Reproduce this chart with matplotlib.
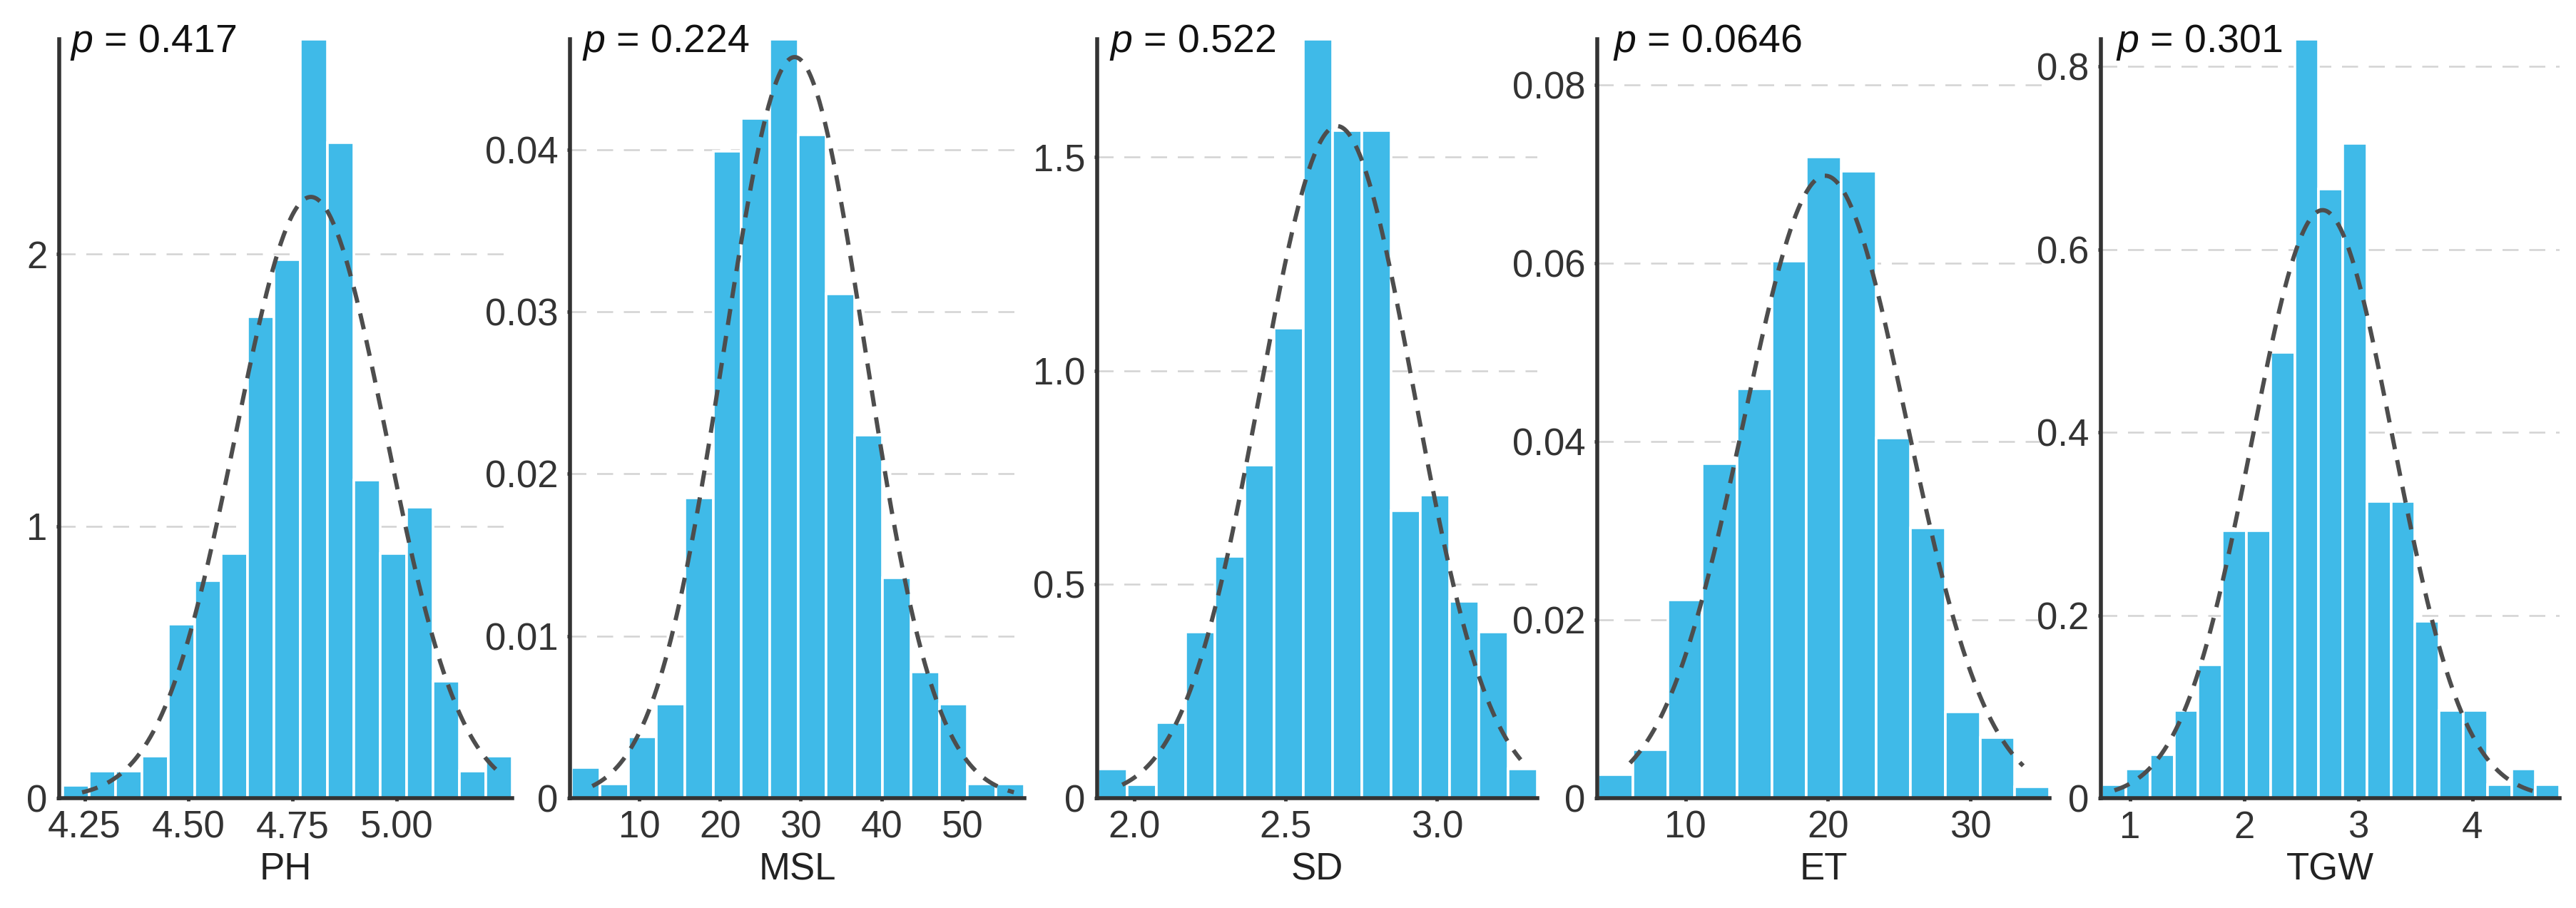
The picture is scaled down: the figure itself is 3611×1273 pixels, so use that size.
#!/usr/bin/env python3
"""Histograms of five traits with fitted normal density and Shapiro p-values."""
import numpy as np
import matplotlib
matplotlib.use("Agg")
import matplotlib.pyplot as plt

plt.rcParams["font.family"] = ["Liberation Sans", "DejaVu Sans"]
plt.rcParams["mathtext.fontset"] = "custom"
plt.rcParams["mathtext.it"] = "Liberation Sans:italic"
plt.rcParams["mathtext.rm"] = "Liberation Sans"

# ── Data ────────────────────────────────────────────────────────────────────
traits = ["PH", "MSL", "SD", "ET", "TGW"]
p_values = ["0.417", "0.224", "0.522", "0.0646", "0.301"]

# histogram densities, left edge of first bin, bin width
ph_heights = [0.047, 0.10, 0.10, 0.155, 0.64, 0.80, 0.90, 1.77, 1.98, 2.79,
              2.41, 1.17, 0.90, 1.07, 0.43, 0.10, 0.155]
msl_heights = [0.0019, 0.0009, 0.0038, 0.0058, 0.0185, 0.0399, 0.0419, 0.0468,
               0.0409, 0.0311, 0.0224, 0.0136, 0.0078, 0.0058, 0.0009, 0.0009]
sd_heights = [0.068, 0.031, 0.176, 0.389, 0.566, 0.779, 1.100, 1.775, 1.561,
              1.561, 0.673, 0.709, 0.461, 0.389, 0.068]
et_heights = [0.0026, 0.0054, 0.0222, 0.0375, 0.0459, 0.0602, 0.0719, 0.0703,
              0.0404, 0.0303, 0.0097, 0.0068, 0.0013]
tgw_heights = [0.0146, 0.0317, 0.0475, 0.0963, 0.1457, 0.2926, 0.2926, 0.4877,
               0.8298, 0.6663, 0.7157, 0.3243, 0.3243, 0.1932, 0.0963, 0.0963,
               0.0146, 0.0317, 0.0146]
heights = [ph_heights, msl_heights, sd_heights, et_heights, tgw_heights]

bin_start = [4.197, 1.66, 1.880, 3.87, 0.753]
bin_width = [0.0636, 3.50, 0.0968, 2.437, 0.2112]

# fitted normal curve: mean, sd, x-range of the drawn curve
fit_mean = [4.794, 29.25, 2.67, 19.8, 2.688]
fit_sd = [0.1805, 8.73, 0.2538, 5.716, 0.6205]
curve_from = [4.244, 4.2, 1.96, 6.1, 0.864]
curve_to = [5.25, 56.4, 3.277, 33.7, 4.59]

xlims = [(4.189, 5.278), (1.44, 57.7), (1.877, 3.332), (3.80, 35.55), (0.745, 4.765)]
ylims = [2.79, 0.0468, 1.775, 0.0851, 0.8298]

xticks = [[4.25, 4.50, 4.75, 5.00], [10, 20, 30, 40, 50], [2.0, 2.5, 3.0],
          [10, 20, 30], [1, 2, 3, 4]]
xticklabels = [["4.25", "4.50", "4.75", "5.00"], ["10", "20", "30", "40", "50"],
               ["2.0", "2.5", "3.0"], ["10", "20", "30"], ["1", "2", "3", "4"]]
yticks = [[0, 1, 2], [0, 0.01, 0.02, 0.03, 0.04], [0, 0.5, 1.0, 1.5],
          [0, 0.02, 0.04, 0.06, 0.08], [0, 0.2, 0.4, 0.6, 0.8]]
yticklabels = [["0", "1", "2"], ["0", "0.01", "0.02", "0.03", "0.04"],
               ["0", "0.5", "1.0", "1.5"], ["0", "0.02", "0.04", "0.06", "0.08"],
               ["0", "0.2", "0.4", "0.6", "0.8"]]

# ── Layout (pixel positions of each panel in a 3611 x 1273 canvas) ─────────
W, H = 3611, 1273
panel_px = [(83, 718), (799, 1436), (1538, 2155), (2239, 2873), (2945, 3588)]
p_offset_px = [15, 17, 17, 22, 21]
top_px, bottom_px = 55, 1119

BAR_COLOR = "#3FBAE8"
AXIS_COLOR = "#333333"
CURVE_COLOR = "#4D4D4D"

fig = plt.figure(figsize=(W / 100, H / 100), dpi=100)

for i, trait in enumerate(traits):
    x0, x1 = panel_px[i]
    ax = fig.add_axes([x0 / W, 1 - bottom_px / H, (x1 - x0) / W,
                       (bottom_px - top_px) / H])

    h = np.array(heights[i])
    lefts = bin_start[i] + bin_width[i] * np.arange(len(h))
    ax.bar(lefts, h, width=bin_width[i], align="edge", color=BAR_COLOR,
           edgecolor="white", linewidth=2.6, zorder=2)

    xs = np.linspace(curve_from[i], curve_to[i], 300)
    dens = np.exp(-0.5 * ((xs - fit_mean[i]) / fit_sd[i]) ** 2) / (fit_sd[i] * np.sqrt(2 * np.pi))
    ax.plot(xs, dens, color=CURVE_COLOR, linewidth=4.3, dashes=(3.8, 2.6),
            zorder=3)

    ax.set_xlim(*xlims[i])
    ax.set_ylim(0, ylims[i])
    ax.set_xticks(xticks[i])
    ax.set_xticklabels(xticklabels[i])
    ax.set_yticks(yticks[i])
    ax.set_yticklabels(yticklabels[i])

    ax.grid(axis="y", color="#D3D3D3", linewidth=1.8, linestyle=(0, (9, 6)),
            zorder=0)
    ax.set_axisbelow(True)

    for side in ["top", "right"]:
        ax.spines[side].set_visible(False)
    for side in ["left", "bottom"]:
        ax.spines[side].set_color(AXIS_COLOR)
        ax.spines[side].set_linewidth(4.0)
        ax.spines[side].set_zorder(4)
    ax.tick_params(axis="both", length=3, width=3.5, color=AXIS_COLOR,
                   labelsize=38, labelcolor="#333333", pad=9)

    ax.set_xlabel(trait, fontsize=38, color="#222222", labelpad=6)

    ax.text(p_offset_px[i] / (x1 - x0), (bottom_px - 73) / (bottom_px - top_px),
            r"$p$ = " + p_values[i], transform=ax.transAxes, fontsize=40,
            color="#111111", ha="left", va="baseline", zorder=5)

fig.savefig("out.png", dpi=100)
